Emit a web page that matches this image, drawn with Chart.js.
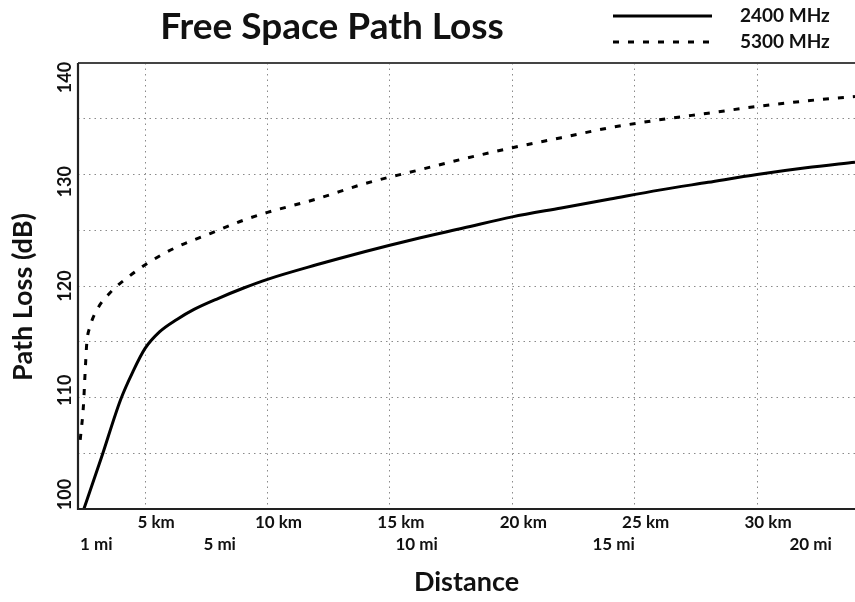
<!DOCTYPE html>
<html>
<head>
<meta charset="utf-8">
<script src="https://cdn.jsdelivr.net/npm/chart.js@4/dist/chart.umd.min.js"></script>
<style>
  html, body { margin: 0; padding: 0; background: #ffffff; }
  #wrap { width: 855px; height: 602px; position: relative; }
</style>
</head>
<body>
<div id="wrap"><canvas id="c" width="855" height="602"></canvas></div>
<script>
// ---- data ----
const chartTitle = 'Free Space Path Loss';
const xAxisTitle = 'Distance';
const yAxisTitle = 'Path Loss (dB)';
const seriesLabels = ['2400 MHz', '5300 MHz'];

// distance in km, path loss in dB
const distance2400 = [2.5, 3.2, 4.0, 4.5, 5.0, 5.6, 6.3, 7.0, 8.0, 9.0, 10, 12, 14, 16, 18, 20, 22, 24, 26, 28, 30, 32, 34];
const loss2400     = [100.0, 104.5, 109.8, 112.3, 114.4, 115.9, 117.0, 117.9, 118.9, 119.8, 120.6, 121.9, 123.1, 124.2, 125.2, 126.2, 127.0, 127.8, 128.6, 129.3, 130.0, 130.6, 131.1];

const distance5300 = [2.35, 2.48, 2.55, 2.62, 2.75, 3.03, 3.57, 4.25, 5.07, 6.3, 7.66, 9.02, 10, 12, 14, 16, 18, 20, 22, 24, 26, 28, 30, 32, 34];
const loss5300     = [106.2, 109.2, 112.2, 114.9, 116.35, 117.85, 119.4, 120.7, 122.0, 123.5, 124.7, 125.9, 126.6, 127.8, 129.2, 130.3, 131.4, 132.4, 133.3, 134.2, 134.9, 135.5, 136.1, 136.6, 137.0];

const kmTicks   = [5, 10, 15, 20, 25, 30];
const mileTicks = [1, 5, 10, 15, 20];
const dbTicks   = [100, 110, 120, 130, 140];

const xRange = [2.26, 34.0];
const yRange = [100, 140];
const KM_PER_MILE = 1.609344;

// ---- styling ----
const FONT = 'Lato, "DejaVu Sans", sans-serif';
const TEXT = '#111111';

const toPts = (xs, ys) => xs.map((d, i) => ({ x: d, y: ys[i] }));

const decor = {
  id: 'decor',
  afterDatasetsDraw(chart) {
    const { ctx, chartArea: a, scales: { x, y } } = chart;
    ctx.save();
    // frame: top, left, bottom
    ctx.setLineDash([]);
    ctx.lineCap = 'butt';
    ctx.strokeStyle = '#444';
    ctx.lineWidth = 2;
    ctx.beginPath();
    ctx.moveTo(a.left, a.top); ctx.lineTo(a.right, a.top);
    ctx.stroke();
    ctx.strokeStyle = '#222';
    ctx.lineWidth = 2.2;
    ctx.beginPath();
    ctx.moveTo(a.left, a.top); ctx.lineTo(a.left, a.bottom); ctx.lineTo(a.right, a.bottom);
    ctx.stroke();

    ctx.fillStyle = TEXT;

    // title
    ctx.font = 'bold 37px ' + FONT;
    ctx.textAlign = 'center';
    ctx.textBaseline = 'middle';
    ctx.fillText(chartTitle, 332, 27);

    // x km ticks
    ctx.font = 'bold 17px ' + FONT;
    ctx.textBaseline = 'middle';
    kmTicks.forEach(v => {
      ctx.textAlign = 'center';
      ctx.fillText(v + ' km', x.getPixelForValue(v) + 11, 523);
    });
    // mile ticks
    mileTicks.forEach(v => {
      const label = v + ' mi';
      const px = x.getPixelForValue(v * KM_PER_MILE);
      const w = ctx.measureText(label).width;
      if (px - w / 2 < a.left + 2) {
        ctx.textAlign = 'left';
        ctx.fillText(label, a.left + 2, 545);
      } else {
        ctx.textAlign = 'center';
        ctx.fillText(label, px, 545);
      }
    });

    // x title
    ctx.font = 'bold 27px ' + FONT;
    ctx.textAlign = 'center';
    ctx.fillText(xAxisTitle, (a.left + a.right) / 2, 582);

    // y ticks (rotated)
    ctx.font = 'bold 18px ' + FONT;
    const c = y.getPixelForValue(120);
    dbTicks.forEach(v => {
      const p = y.getPixelForValue(v);
      const py = c + (p - c) * 0.935;
      ctx.save();
      ctx.translate(65, py);
      ctx.rotate(-Math.PI / 2);
      ctx.textAlign = 'center';
      ctx.textBaseline = 'middle';
      ctx.fillText(String(v), 0, 0);
      ctx.restore();
    });

    // y title
    ctx.save();
    ctx.font = 'bold 27px ' + FONT;
    ctx.translate(23, 297);
    ctx.rotate(-Math.PI / 2);
    ctx.textAlign = 'center';
    ctx.textBaseline = 'middle';
    ctx.fillText(yAxisTitle, 0, 0);
    ctx.restore();

    // legend
    const rows = [16, 42];
    chart.data.datasets.forEach((ds, i) => {
      ctx.strokeStyle = ds.borderColor;
      ctx.lineWidth = ds.borderWidth;
      ctx.setLineDash(ds.borderDash || []);
      ctx.beginPath();
      ctx.moveTo(613, rows[i]); ctx.lineTo(712, rows[i]);
      ctx.stroke();
      ctx.setLineDash([]);
      ctx.font = 'bold 19px ' + FONT;
      ctx.textAlign = 'left';
      ctx.textBaseline = 'middle';
      ctx.fillStyle = TEXT;
      ctx.fillText(ds.label, 740, rows[i]);
    });
    ctx.restore();
  }
};

new Chart(document.getElementById('c'), {
  type: 'line',
  data: {
    datasets: [
      {
        label: seriesLabels[0],
        data: toPts(distance2400, loss2400),
        borderColor: '#000000',
        borderWidth: 3,
        borderDash: [],
        pointRadius: 0,
        fill: false,
        cubicInterpolationMode: 'monotone'
      },
      {
        label: seriesLabels[1],
        data: toPts(distance5300, loss5300),
        borderColor: '#000000',
        borderWidth: 3,
        borderDash: [6, 9],
        pointRadius: 0,
        fill: false,
        cubicInterpolationMode: 'monotone'
      }
    ]
  },
  options: {
    responsive: false,
    animation: false,
    devicePixelRatio: 1,
    layout: { padding: { left: 78, top: 63, right: 0, bottom: 93 } },
    plugins: { legend: { display: false }, title: { display: false }, tooltip: { enabled: false } },
    scales: {
      x: {
        type: 'linear',
        min: xRange[0],
        max: xRange[1],
        ticks: { display: false, stepSize: 5, includeBounds: false },
        grid: { color: '#8a8a8a', lineWidth: 1, drawTicks: false },
        border: { display: false, dash: [1.5, 4] }
      },
      y: {
        type: 'linear',
        min: yRange[0],
        max: yRange[1],
        ticks: { display: false, stepSize: 5 },
        grid: { color: '#8a8a8a', lineWidth: 1, drawTicks: false },
        border: { display: false, dash: [1.5, 4] }
      }
    }
  },
  plugins: [decor]
});
</script>
</body>
</html>
